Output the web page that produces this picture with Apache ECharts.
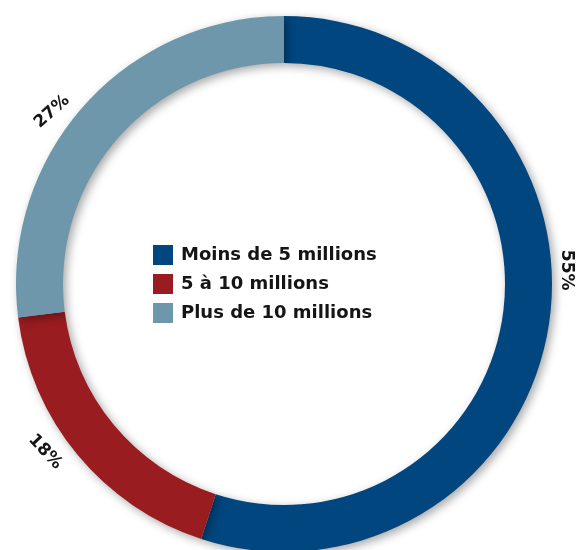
<!DOCTYPE html>
<html>
<head>
<meta charset="utf-8">
<script src="https://cdn.jsdelivr.net/npm/echarts@6/dist/echarts.min.js"></script>
<style>html,body{margin:0;padding:0;background:#fff}#c{width:583px;height:550px}</style>
</head>
<body>
<div id="c"></div>
<script>
const categories = ['Moins de 5 millions', '5 à 10 millions', 'Plus de 10 millions'];
const values = [55, 18, 27];
const labels = ['55%', '18%', '27%'];
const colors = ['#01467f', '#991c20', '#6e97ab'];

const CX = 284, CY = 284;
const FONT = '"DejaVu Sans", sans-serif';
// label placement around the ring (angle shift from the slice middle, radius, rotation)
const labelShift = [-11.8, 4.5, -4.8];
const labelRadius = [283, 292, 289];
const labelRotate = [-90, -47, 42];

const total = values.reduce((a, b) => a + b, 0);
const midAngles = [];
let acc = 0;
values.forEach(v => { midAngles.push((acc + v / 2) / total * 360); acc += v; });

const chart = echarts.init(document.getElementById('c'));
chart.setOption({
  animation: false,
  legend: {
    orient: 'vertical',
    left: 153, top: 245, padding: 0,
    itemWidth: 20, itemHeight: 20, itemGap: 9,
    icon: 'rect',
    textStyle: { fontFamily: FONT, fontSize: 18, fontWeight: 'bold', color: '#151515', padding: [0, 0, 0, 3] },
    data: categories
  },
  series: [
    {
      type: 'pie',
      center: [CX, CY],
      radius: [221, 268],
      startAngle: 90,
      clockwise: true,
      label: {
        show: true, position: 'inside',
        fontFamily: FONT, fontSize: 17, fontWeight: 'bold', color: '#151515',
        formatter: p => labels[p.dataIndex]
      },
      labelLine: { show: false },
      labelLayout: function (p) {
        const i = p.dataIndex;
        const a = (midAngles[i] + labelShift[i]) * Math.PI / 180;
        return {
          x: CX + labelRadius[i] * Math.sin(a),
          y: CY - labelRadius[i] * Math.cos(a),
          rotate: labelRotate[i],
          align: 'center', verticalAlign: 'middle'
        };
      },
      itemStyle: {
        shadowBlur: 10, shadowOffsetX: 3, shadowOffsetY: 3,
        shadowColor: 'rgba(0,0,0,0.35)'
      },
      data: categories.map((c, i) => ({ name: c, value: values[i], itemStyle: { color: colors[i] } }))
    }
  ]
});
</script>
</body>
</html>
